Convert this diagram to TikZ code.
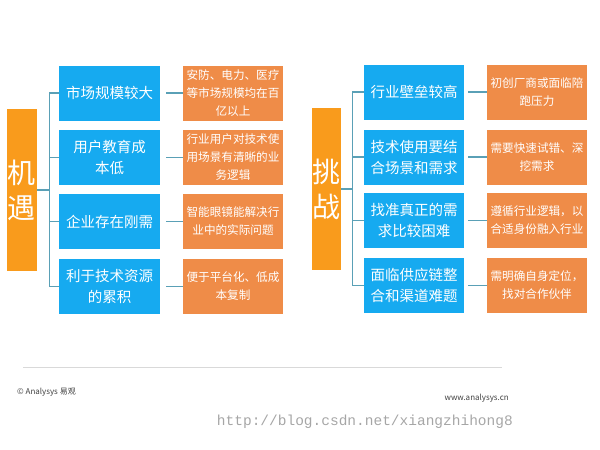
\documentclass[tikz,border=0pt]{standalone}
\usepackage{fontspec}
\setmainfont{Noto Sans CJK SC}
\newfontfamily\urlfont{Liberation Mono}
\definecolor{bigor}{RGB}{249,155,28}
\definecolor{bluebx}{RGB}{22,170,240}
\definecolor{orbx}{RGB}{239,140,72}
\definecolor{connc}{RGB}{90,160,182}
\tikzset{
  bigbox/.style={fill=bigor,draw=none,minimum width=30pt,minimum height=162pt,inner sep=0pt,text=white,align=center,font=\fontsize{28}{35}\selectfont},
  bluebox/.style={fill=bluebx,draw=none,minimum width=101pt,minimum height=55pt,inner sep=0pt,text=white,align=center,font=\fontsize{14.5}{21}\selectfont},
  orbox/.style={fill=orbx,draw=none,minimum width=100pt,minimum height=55pt,inner sep=0pt,text=white,align=center,font=\fontsize{11.6}{18}\selectfont},
  conn/.style={draw=connc,line width=1.4pt}
}
\begin{document}
\begin{tikzpicture}[x=1pt,y=-1pt]
\useasboundingbox (0,0) rectangle (600,450);
% left group
\node[bigbox] (g1) at (22,190) {机\\遇};
\node[bluebox] (lb1) at (109.5,93) {市场规模较大};
\node[bluebox] (lb2) at (109.5,157.5) {用户教育成\\本低};
\node[bluebox] (lb3) at (109.5,221.5) {企业存在刚需};
\node[bluebox] (lb4) at (109.5,286.5) {利于技术资源\\的累积};
\node[orbox] (lo1) at (233,93) {安防、电力、医疗\\等市场规模均在百\\亿以上};
\node[orbox] (lo2) at (233,157.5) {行业用户对技术使\\用场景有清晰的业\\务逻辑};
\node[orbox] (lo3) at (233,221.5) {智能眼镜能解决行\\业中的实际问题};
\node[orbox] (lo4) at (233,286.5) {便于平台化、低成\\本复制};
% right group
\node[bigbox,minimum width=29pt] (g2) at (326.5,189) {挑\\战};
\node[bluebox,minimum width=100pt] (rb1) at (414,92) {行业壁垒较高};
\node[bluebox,minimum width=100pt] (rb2) at (414,157) {技术使用要结\\合场景和需求};
\node[bluebox,minimum width=100pt] (rb3) at (414,220.5) {找准真正的需\\求比较困难};
\node[bluebox,minimum width=100pt] (rb4) at (414,285.5) {面临供应链整\\合和渠道难题};
\node[orbox] (ro1) at (537,92) {初创厂商或面临陪\\跑压力};
\node[orbox] (ro2) at (537,157) {需要快速试错、深\\挖需求};
\node[orbox] (ro3) at (537,220.5) {遵循行业逻辑，以\\合适身份融入行业};
\node[orbox] (ro4) at (537,285.5) {需明确自身定位，\\找对合作伙伴};
% connectors left
\draw[conn] (g1.east) -- ++(12,0) coordinate (j1);
\draw[conn] (j1 |- lb1.west) -- (j1 |- lb4.west);
\foreach \i in {1,2,3,4}{
  \draw[conn] (j1 |- lb\i.west) -- (lb\i.west);
  \draw[conn] ([xshift=6pt]lb\i.east) -- (lo\i.west);
}
% connectors right
\draw[conn] (g2.east) -- ++(11,0) coordinate (j2);
\draw[conn] (j2 |- rb1.west) -- (j2 |- rb4.west);
\foreach \i in {1,2,3,4}{
  \draw[conn] (j2 |- rb\i.west) -- (rb\i.west);
  \draw[conn] ([xshift=4pt]rb\i.east) -- (ro\i.west);
}
% footer
\coordinate (fl) at (23,367);
\coordinate (fr) at (502,367);
\draw[gray!30,line width=0.8pt] (fl) -- (fr);
\node[anchor=west,inner sep=0pt,font=\fontsize{8}{10}\selectfont,text=black!75] (cp) at (17,392) {© Analysys 易观};
\node[anchor=east,inner sep=0pt,font=\fontsize{8}{10}\selectfont,text=black!75] (web) at (509,398) {www.analysys.cn};
\node[anchor=east,inner sep=0pt,font=\urlfont\fontsize{14.5}{16}\selectfont,text=black!35] (url) at (513,422) {http://blog.csdn.net/xiangzhihong8};
\end{tikzpicture}
\end{document}
